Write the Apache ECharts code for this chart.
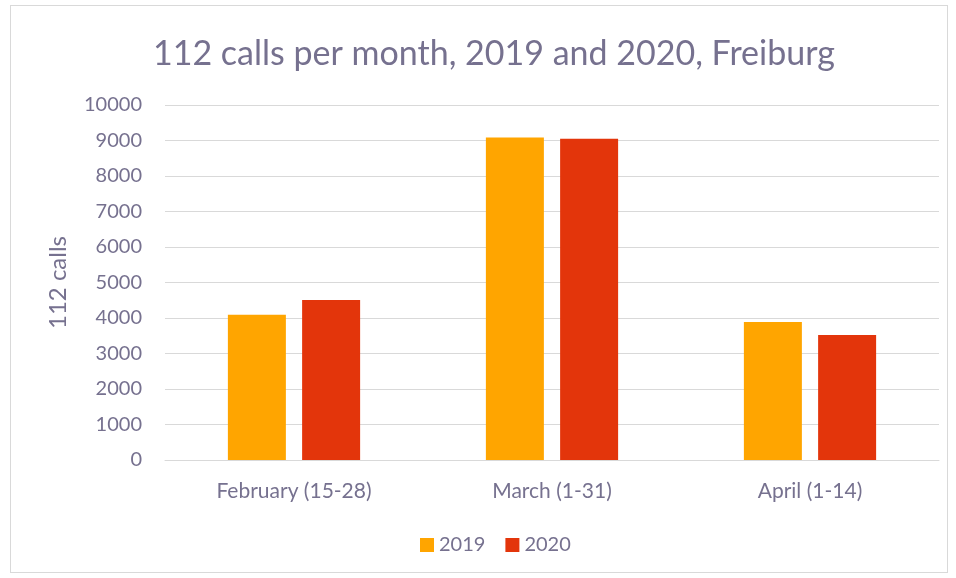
<!DOCTYPE html>
<html>
<head>
<meta charset="utf-8">
<script src="https://cdn.jsdelivr.net/npm/echarts@6/dist/echarts.min.js"></script>
<style>
html, body { margin: 0; padding: 0; background: #fff; }
#frame { position: absolute; left: 10px; top: 5px; width: 938px; height: 568px; border: 1px solid #d9d9d9; box-sizing: border-box; }
#chart { width: 956px; height: 578px; }
</style>
</head>
<body>
<div id="frame"></div>
<div id="chart"></div>
<script>
var categories = ['February (15-28)', 'March (1-31)', 'April (1-14)'];
var calls2019 = [4090, 9085, 3890];
var calls2020 = [4510, 9050, 3520];

var textColor = '#76718f';
var font = 'Lato';

var chart = echarts.init(document.getElementById('chart'));
chart.setOption({
	animation: false,
	textStyle: { fontFamily: font },
	title: {
		text: '112 calls per month, 2019 and 2020, Freiburg',
		left: 148,
		top: 32,
		textStyle: { color: textColor, fontSize: 34, fontWeight: 'normal', fontFamily: font }
	},
	legend: {
		bottom: 18,
		left: 415,
		itemWidth: 14,
		itemHeight: 14,
		itemGap: 20,
		icon: 'rect',
		textStyle: { color: textColor, fontSize: 20, fontFamily: font },
		data: ['2019', '2020']
	},
	grid: { left: 165, right: 17, top: 105, bottom: 118 },
	xAxis: {
		type: 'category',
		data: categories,
		axisTick: { show: false },
		axisLine: { lineStyle: { color: '#d9d9d9' } },
		axisLabel: { color: textColor, fontSize: 21, margin: 21, fontFamily: font }
	},
	yAxis: {
		type: 'value',
		min: 0,
		max: 10000,
		interval: 1000,
		name: '112 calls',
		nameLocation: 'middle',
		nameGap: 95,
		nameTextStyle: { color: textColor, fontSize: 24, fontFamily: font },
		axisLine: { show: false },
		axisTick: { show: false },
		axisLabel: { color: textColor, fontSize: 20, margin: 23, fontFamily: font, formatter: function (v) { return String(v); } },
		splitLine: { lineStyle: { color: '#d9d9d9' } }
	},
	series: [
		{ name: '2019', type: 'bar', data: calls2019, barWidth: 58, barGap: '28%', itemStyle: { color: '#ffa500' } },
		{ name: '2020', type: 'bar', data: calls2020, barWidth: 58, itemStyle: { color: '#e3350b' } }
	]
});
</script>
</body>
</html>
